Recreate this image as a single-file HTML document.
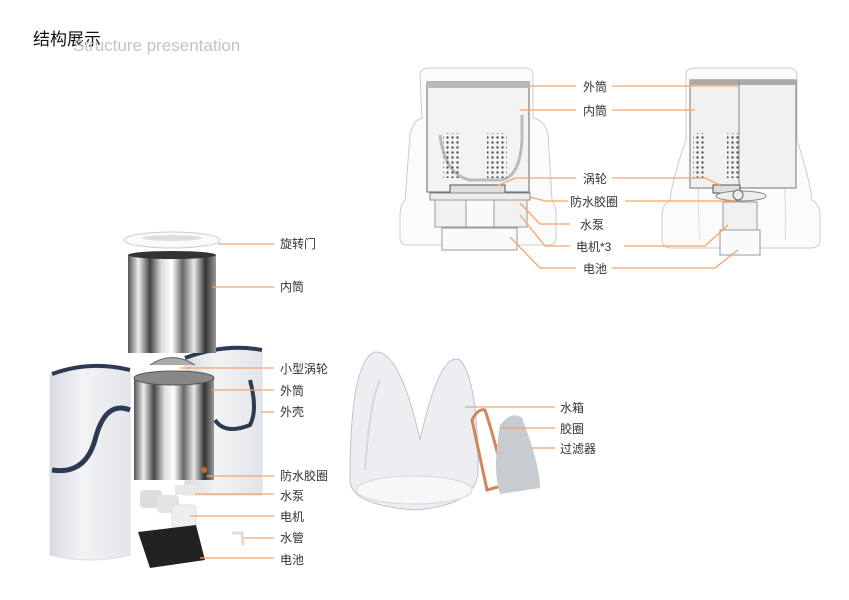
<!DOCTYPE html>
<html><head><meta charset="utf-8"><style>
html,body{margin:0;padding:0;background:#fff;width:849px;height:600px;overflow:hidden}
svg text{font-family:"Liberation Sans","Noto Sans CJK SC",sans-serif}
</style></head><body>
<svg width="849" height="600" viewBox="0 0 849 600" xmlns="http://www.w3.org/2000/svg">
<defs>
<linearGradient id="metal" x1="0" x2="1" y1="0" y2="0">
<stop offset="0" stop-color="#555"/><stop offset=".12" stop-color="#eee"/><stop offset=".25" stop-color="#444"/><stop offset=".38" stop-color="#ddd"/><stop offset=".5" stop-color="#fff"/><stop offset=".62" stop-color="#666"/><stop offset=".75" stop-color="#e8e8e8"/><stop offset=".88" stop-color="#333"/><stop offset="1" stop-color="#999"/>
</linearGradient>
<linearGradient id="shell" x1="0" x2="1" y1="0" y2="0">
<stop offset="0" stop-color="#d8dbe0"/><stop offset=".4" stop-color="#f2f3f5"/><stop offset="1" stop-color="#e2e5e9"/>
</linearGradient>
<pattern id="dots" width="5" height="5" patternUnits="userSpaceOnUse"><circle cx="2.5" cy="2.5" r="1.2" fill="#555"/></pattern>
</defs>
<text x="33" y="45" font-size="17" fill="#111">结构展示</text>
<text x="73" y="51" font-size="17" fill="#c4c4c4">Structure presentation</text>

<!-- top-left diagram -->
<path d="M420 75 Q420 68 430 68 L525 68 Q533 68 533 76 L533 118 Q545 120 548 135 L552 200 Q556 205 556 215 L556 238 Q556 245 548 245 L408 245 Q400 245 400 238 L400 215 Q400 205 405 200 L410 135 Q413 120 422 118 Z" fill="#fbfbfb" stroke="#ccc"/>
<rect x="427" y="82" width="102" height="110" fill="#f3f3f3" stroke="#666"/>
<rect x="427" y="82" width="102" height="6" fill="#bbb"/>
<path d="M440 135 Q445 175 470 180 L500 180 Q520 178 522 140 L522 115" fill="none" stroke="#bbb" stroke-width="3"/>
<rect x="443" y="133" width="18" height="45" fill="url(#dots)"/>
<rect x="487" y="133" width="20" height="45" fill="url(#dots)"/>
<rect x="450" y="185" width="55" height="8" fill="#ddd" stroke="#555"/>
<rect x="430" y="193" width="100" height="7" fill="#eee" stroke="#888"/>
<rect x="435" y="200" width="92" height="27" fill="#f1f1f1" stroke="#999"/>
<rect x="466" y="200" width="28" height="27" fill="#fafafa" stroke="#999"/>
<rect x="442" y="228" width="75" height="22" fill="#fafafa" stroke="#999"/>

<!-- top-right diagram -->
<path d="M686 75 Q686 68 695 68 L788 68 Q797 68 797 76 L797 140 Q810 180 812 200 Q820 205 820 215 L820 240 Q820 248 810 248 L672 248 Q662 248 662 240 L662 215 Q662 205 670 200 Q672 180 686 140 Z" fill="#fbfbfb" stroke="#ccc"/>
<path d="M700 240 Q690 110 740 100 Q790 110 785 240" fill="none" stroke="#ddd"/>
<rect x="690" y="80" width="106" height="108" fill="#f1f1f1" stroke="#777"/>
<rect x="690" y="80" width="106" height="5" fill="#aaa"/>
<line x1="739" y1="80" x2="739" y2="188" stroke="#888"/>
<rect x="693" y="133" width="12" height="45" fill="url(#dots)"/>
<rect x="727" y="133" width="12" height="45" fill="url(#dots)"/>
<rect x="713" y="185" width="27" height="8" fill="#ddd" stroke="#555"/>
<ellipse cx="741" cy="196" rx="25" ry="5" fill="#eee" stroke="#888"/>
<circle cx="738" cy="195" r="5" fill="#eee" stroke="#666"/>
<rect x="723" y="202" width="34" height="28" fill="#f1f1f1" stroke="#999"/>
<rect x="720" y="230" width="40" height="25" fill="#fafafa" stroke="#999"/>

<g stroke="#f5a46a" stroke-width="1.3" fill="none">
<polyline points="530,86 576,86"/><polyline points="612,86 740,86"/>
<polyline points="520,110 576,110"/><polyline points="612,110 695,110"/>
<polyline points="497,186 515,178 576,178"/><polyline points="612,178 705,178 720,185"/>
<polyline points="530,197 545,201 568,201"/><polyline points="625,201 735,201"/>
<polyline points="520,203 540,224 570,224"/>
<polyline points="520,215 545,246 570,246"/><polyline points="624,246 705,246 728,225"/>
<polyline points="510,237 540,268 576,268"/><polyline points="612,268 715,268 738,250"/>
</g>
<g font-size="12" fill="#333">
<text x="583" y="91">外筒</text><text x="583" y="115">内筒</text><text x="583" y="183">涡轮</text>
<text x="570" y="206">防水胶圈</text><text x="580" y="229">水泵</text><text x="576" y="251">电机*3</text><text x="583" y="273">电池</text>
</g>

<!-- exploded left -->
<path d="M185 360 Q225 345 262 352 L262 495 L185 495 Z" fill="url(#shell)" stroke="#ddd"/>
<path d="M185 358 Q225 343 262 350" fill="none" stroke="#2d3b52" stroke-width="4"/>
<path d="M250 380 Q258 410 250 425 Q225 435 215 420" fill="none" stroke="#2d3b52" stroke-width="4"/>
<path d="M50 375 Q90 362 130 372 L130 555 Q90 565 50 555 Z" fill="url(#shell)" stroke="#ddd"/>
<path d="M52 374 Q90 360 130 370" fill="none" stroke="#2d3b52" stroke-width="4"/>
<path d="M52 470 Q85 475 95 440 Q105 400 130 410" fill="none" stroke="#2d3b52" stroke-width="5"/>
<ellipse cx="172" cy="240" rx="48" ry="8" fill="#fafafa" stroke="#ccc"/>
<ellipse cx="172" cy="238" rx="30" ry="3" fill="#ddd"/>
<rect x="128" y="255" width="88" height="98" fill="url(#metal)"/>
<ellipse cx="172" cy="255" rx="44" ry="4" fill="#333"/>
<path d="M150 365 Q172 350 195 365" fill="#aaa" stroke="#666"/>
<rect x="134" y="378" width="80" height="102" fill="url(#metal)"/>
<ellipse cx="174" cy="378" rx="40" ry="7" fill="#888" stroke="#555"/>
<circle cx="204" cy="470" r="3" fill="#c06a30"/>
<rect x="175" y="485" width="26" height="10" fill="#e8e8e8"/>
<rect x="140" y="490" width="22" height="18" rx="4" fill="#ddd"/>
<rect x="157" y="495" width="22" height="18" rx="4" fill="#e4e4e4"/>
<rect x="172" y="505" width="24" height="24" rx="4" fill="#eee" stroke="#ddd"/>
<path d="M138 532 L196 525 L205 560 L150 568 Z" fill="#222"/>
<path d="M232 533 L242 533 L243 545" fill="none" stroke="#ddd" stroke-width="3"/>
<g stroke="#f5a46a" stroke-width="1.3" fill="none">
<line x1="218" y1="244" x2="274" y2="244"/><line x1="212" y1="287" x2="274" y2="287"/>
<line x1="180" y1="368" x2="274" y2="368"/><line x1="212" y1="390" x2="274" y2="390"/>
<line x1="261" y1="412" x2="274" y2="412"/><line x1="207" y1="476" x2="274" y2="476"/>
<line x1="195" y1="494" x2="274" y2="494"/><line x1="190" y1="516" x2="274" y2="516"/>
<line x1="244" y1="538" x2="274" y2="538"/><line x1="200" y1="558" x2="274" y2="558"/>
</g>
<g font-size="12" fill="#333">
<text x="280" y="248">旋转门</text><text x="280" y="291">内筒</text><text x="280" y="373">小型涡轮</text>
<text x="280" y="395">外筒</text><text x="280" y="416">外壳</text><text x="280" y="480">防水胶圈</text>
<text x="280" y="500">水泵</text><text x="280" y="521">电机</text><text x="280" y="542">水管</text><text x="280" y="564">电池</text>
</g>

<!-- tank -->
<path d="M350 480 Q350 360 375 352 Q400 350 420 440 Q440 350 460 360 Q478 380 478 470 Q478 505 415 510 Q350 505 350 480 Z" fill="#eceef1" stroke="#bfc3c9"/>
<path d="M365 470 Q370 400 380 380" fill="none" stroke="#d5d8dc" stroke-width="2"/>
<ellipse cx="414" cy="490" rx="58" ry="14" fill="#f6f7f9" stroke="#d4d7dc"/>
<path d="M472 420 Q478 408 485 410 Q495 440 505 485 L487 490 Z" fill="none" stroke="#d0865a" stroke-width="3"/>
<path d="M500 425 Q512 410 522 418 Q540 465 540 488 L500 494 Q492 470 500 425 Z" fill="#c8cbd0"/>
<g stroke="#f5a46a" stroke-width="1.3" fill="none">
<line x1="465" y1="407" x2="555" y2="407"/><line x1="500" y1="428" x2="555" y2="428"/><line x1="530" y1="448" x2="555" y2="448"/>
</g>
<g font-size="12" fill="#333">
<text x="560" y="412">水箱</text><text x="560" y="433">胶圈</text><text x="560" y="453">过滤器</text>
</g>
</svg>
</body></html>
